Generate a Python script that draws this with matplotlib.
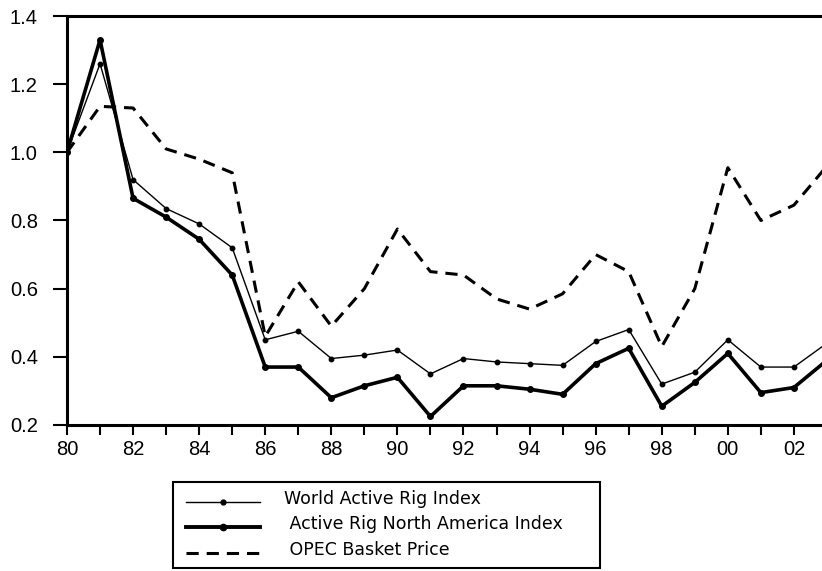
import matplotlib
matplotlib.use("Agg")
import matplotlib.pyplot as plt
from matplotlib.lines import Line2D
from matplotlib.patches import Rectangle

years = list(range(1980, 2004))
world_rig = [1.00, 1.26, 0.92, 0.835, 0.79, 0.72, 0.45, 0.475, 0.395, 0.405, 0.42, 0.35,
             0.395, 0.385, 0.38, 0.375, 0.445, 0.48, 0.32, 0.355, 0.45, 0.37, 0.37, 0.44]
na_rig = [1.00, 1.33, 0.865, 0.81, 0.745, 0.64, 0.37, 0.37, 0.28, 0.315, 0.34, 0.225,
          0.315, 0.315, 0.305, 0.29, 0.38, 0.425, 0.255, 0.325, 0.41, 0.295, 0.31, 0.39]
opec = [1.00, 1.135, 1.13, 1.01, 0.98, 0.94, 0.46, 0.62, 0.49, 0.60, 0.775, 0.65,
        0.64, 0.57, 0.54, 0.585, 0.70, 0.65, 0.43, 0.60, 0.955, 0.80, 0.845, 0.96]
labels = ["World Active Rig Index", " Active Rig North America Index", " OPEC Basket Price"]
xtick_years = list(range(1980, 2003, 2))
xtick_labels = [f"{y % 100:02d}" for y in xtick_years]
yticks = [0.2, 0.4, 0.6, 0.8, 1.0, 1.2, 1.4]

W, H = 822, 571
fig = plt.figure(figsize=(W / 100, H / 100), dpi=100)
ax = fig.add_axes([67 / W, (H - 425) / H, (W - 67) / W, 409 / H])

ax.plot(years, world_rig, color="black", lw=1.0, marker="o", ms=3.2)
ax.plot(years, na_rig, color="black", lw=2.6, marker="o", ms=4.0)
ax.plot(years, opec, color="black", lw=2.2, dashes=(4, 2.6))

ax.set_xlim(1980, 2002.85)
ax.set_ylim(0.2, 1.4)
ax.set_xticks(range(1980, 2003))
ax.set_xticklabels([xtick_labels[xtick_years.index(y)] if y in xtick_years else "" for y in range(1980, 2003)])
ax.set_yticks(yticks)
ax.set_yticklabels([f"{v:.1f}" for v in yticks])

for s in ["left", "top", "bottom"]:
    ax.spines[s].set_linewidth(2.2)
ax.spines["right"].set_visible(False)
ax.tick_params(axis="x", direction="out", length=7, width=1.5, pad=4, labelsize=14.5)
ax.tick_params(axis="y", direction="out", length=10, width=1.5, pad=11, labelsize=14.5)
for t in ax.get_xticklabels() + ax.get_yticklabels():
    t.set_fontfamily("Liberation Sans")

# legend box drawn in figure pixel coordinates
def fx(px):
    return px / W

def fy(py):
    return 1 - py / H

fig.patches.append(Rectangle((fx(173), fy(568)), fx(600) - fx(173), fy(482) - fy(568),
                             transform=fig.transFigure, fill=False, ec="black", lw=1.5))
rows = [502, 527, 553]
styles = [dict(lw=1.0, marker="o", ms=3.5), dict(lw=2.8, marker="o", ms=4.5), dict(lw=2.2, dashes=(4, 2.6))]
for ypix, st, lab in zip(rows, styles, labels):
    if "marker" in st:
        fig.add_artist(Line2D([fx(186), fx(260)], [fy(ypix), fy(ypix)], color="black",
                              lw=st["lw"], transform=fig.transFigure))
        fig.add_artist(Line2D([fx(223)], [fy(ypix)], color="black", marker="o", ms=st["ms"],
                              transform=fig.transFigure))
    else:
        fig.add_artist(Line2D([fx(186), fx(260)], [fy(ypix), fy(ypix)], color="black",
                              lw=st["lw"], dashes=st["dashes"], transform=fig.transFigure))
    fig.text(fx(284), fy(ypix - 3), lab, ha="left", va="center", fontsize=12.5,
             family="DejaVu Sans")

fig.savefig("out.png", dpi=100)
